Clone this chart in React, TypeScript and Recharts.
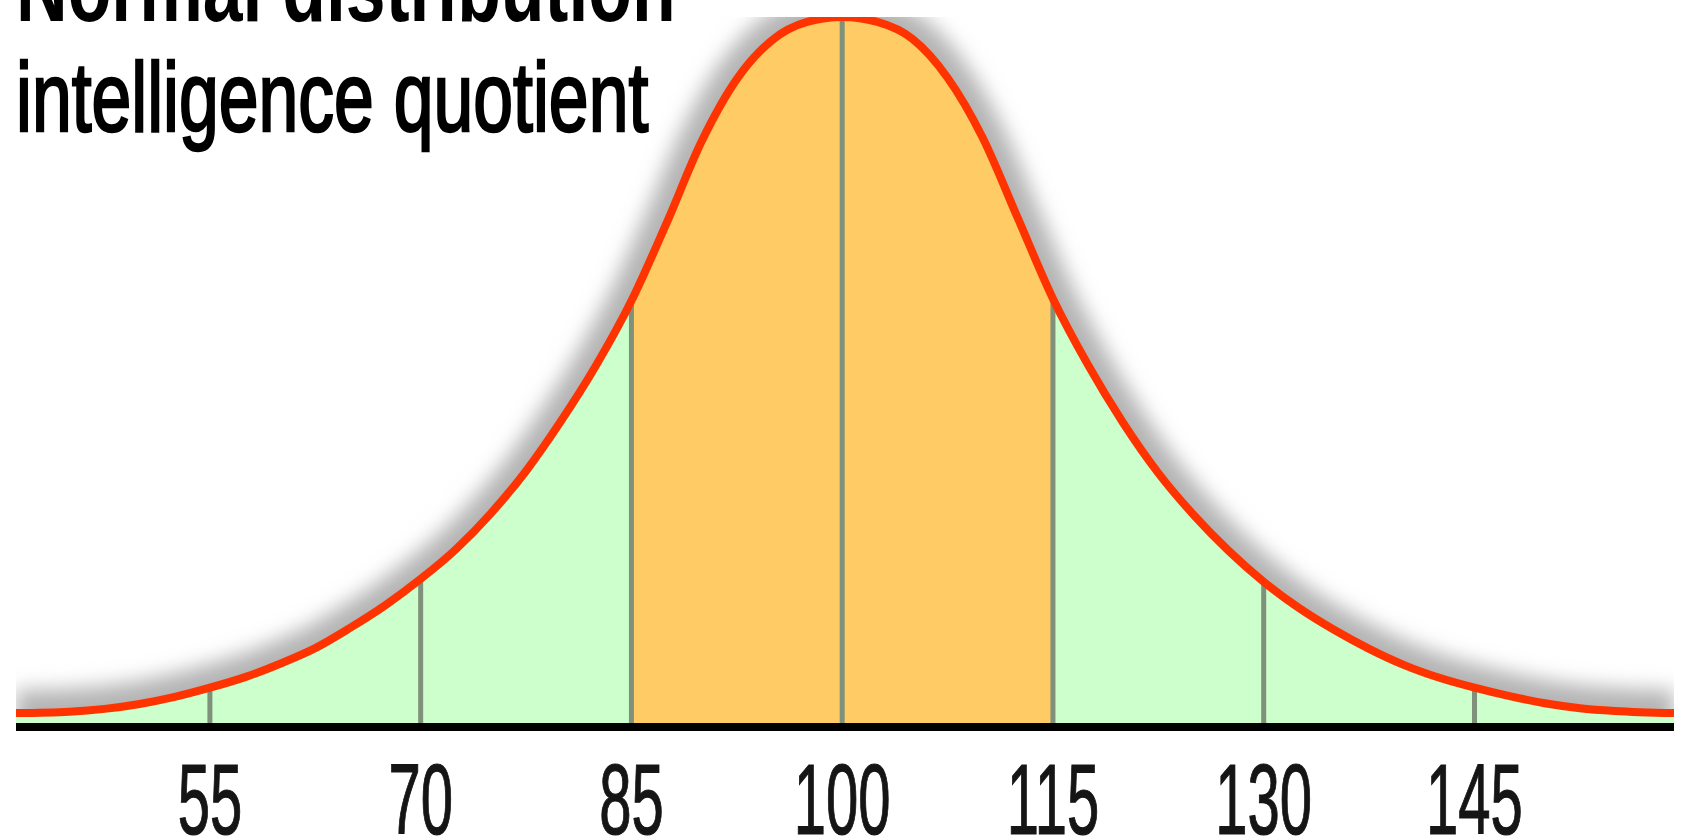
import React from 'react';
import { ComposedChart, Area, Line, XAxis, YAxis, ReferenceLine } from 'recharts';

// IQ score (x) and curve height in % of the peak (y)
const iqScores = [
  41.2, 45, 47.5, 50, 52.5, 55, 57.5, 60, 62.5, 65, 67.5, 70, 72.5, 75, 77.5, 80, 82.5, 85, 87.5, 90, 92.5, 95, 97.5,
  100, 102.5, 105, 107.5, 110, 112.5, 115, 117.5, 120, 122.5, 125, 127.5, 130, 132.5, 135, 137.5, 140, 142.5, 145,
  147.5, 150, 152.5, 155, 159.2,
];
const relativeFrequency = [
  1.4, 1.6, 2.0, 2.7, 3.7, 5.0, 6.5, 8.4, 10.6, 13.5, 16.7, 20.4, 24.6, 29.7, 35.7, 42.8, 50.7, 59.8, 70.8, 82.4, 91.2,
  96.7, 99.3, 100, 99.3, 96.9, 91.4, 82.9, 71.5, 60.1, 50.7, 42.5, 35.4, 29.5, 24.4, 20.0, 16.3, 13.2, 10.5, 8.2, 6.4,
  5.0, 3.8, 2.8, 2.1, 1.7, 1.4,
];
const tickValues = [55, 70, 85, 100, 115, 130, 145];
const dividerValues = [55, 70, 85, 100, 115, 130, 145];
const averageRange = [85, 115];
const xDomain = [41.2, 159.2];
const titleText = 'Normal distribution';
const subtitleText = 'intelligence quotient';

const data = iqScores.map((iq, i) => ({
  iq,
  all: relativeFrequency[i],
  mid: iq >= averageRange[0] && iq <= averageRange[1] ? relativeFrequency[i] : null,
}));

const heightAt = (v: number) => relativeFrequency[iqScores.indexOf(v)];

const FONT = '"Liberation Sans", Arial, Helvetica, sans-serif';

const Tick = (props: any) => {
  const { x, y, payload } = props;
  return (
    <g transform={`translate(${x},${y + 107}) scale(0.58,1)`}>
      <text
        x={0}
        y={0}
        textAnchor="middle"
        fontSize={100}
        fontFamily={FONT}
        fill="#151515"
        stroke="#151515"
        strokeWidth={1.2}
      >
        {payload.value}
      </text>
    </g>
  );
};

export default function App() {
  return (
    <div style={{ position: 'absolute', left: 0, top: 0, width: 1690, height: 839, background: '#fff' }}>
      <ComposedChart
        width={1690}
        height={839}
        data={data}
        margin={{ top: 17, right: 16, bottom: 12, left: 16 }}
      >
        <defs>
          <filter id="curveShadow" x="-5%" y="-15%" width="110%" height="140%">
            <feGaussianBlur stdDeviation="10" />
          </filter>
        </defs>
        <XAxis
          dataKey="iq"
          type="number"
          domain={xDomain}
          allowDataOverflow
          ticks={tickValues}
          interval={0}
          tickLine={false}
          tickSize={0}
          tickMargin={0}
          height={100}
          axisLine={{ stroke: '#000', strokeWidth: 8 }}
          tick={<Tick />}
        />
        <YAxis hide type="number" domain={[-0.5666, 100]} allowDataOverflow />
        <Line
          type="monotone"
          dataKey="all"
          stroke="#b4b4b4"
          strokeWidth={46}
          dot={false}
          activeDot={false}
          filter="url(#curveShadow)"
          isAnimationActive={false}
          zIndex={50}
        />
        <Area
          type="monotone"
          dataKey="all"
          stroke="none"
          fill="#CCFFCC"
          fillOpacity={1}
          baseValue={0}
          activeDot={false}
          isAnimationActive={false}
          zIndex={100}
        />
        <Area
          type="monotone"
          dataKey="mid"
          stroke="none"
          fill="#FECB65"
          fillOpacity={1}
          baseValue={0}
          activeDot={false}
          isAnimationActive={false}
          zIndex={110}
        />
        {dividerValues.map((v) => (
          <ReferenceLine
            key={v}
            segment={[
              { x: v, y: 0 },
              { x: v, y: heightAt(v) },
            ]}
            stroke="#7F917A"
            strokeWidth={5}
            ifOverflow="visible"
            zIndex={300}
          />
        ))}
        <Line
          type="monotone"
          dataKey="all"
          stroke="#FF3300"
          strokeWidth={8}
          dot={false}
          activeDot={false}
          isAnimationActive={false}
          zIndex={500}
        />
      </ComposedChart>
      <svg
        width={1690}
        height={839}
        style={{ position: 'absolute', left: 0, top: 0, pointerEvents: 'none' }}
      >
        <g transform="translate(16,21) scale(0.73,1)">
          <text x={0} y={0} fontSize={98} fontWeight="bold" fontFamily={FONT} fill="#000">
            {titleText}
          </text>
        </g>
        <g transform="translate(16,131) scale(0.73,1)">
          <text x={0} y={0} fontSize={98} fontFamily={FONT} fill="#000" stroke="#000" strokeWidth={2.5}>
            {subtitleText}
          </text>
        </g>
      </svg>
    </div>
  );
}
